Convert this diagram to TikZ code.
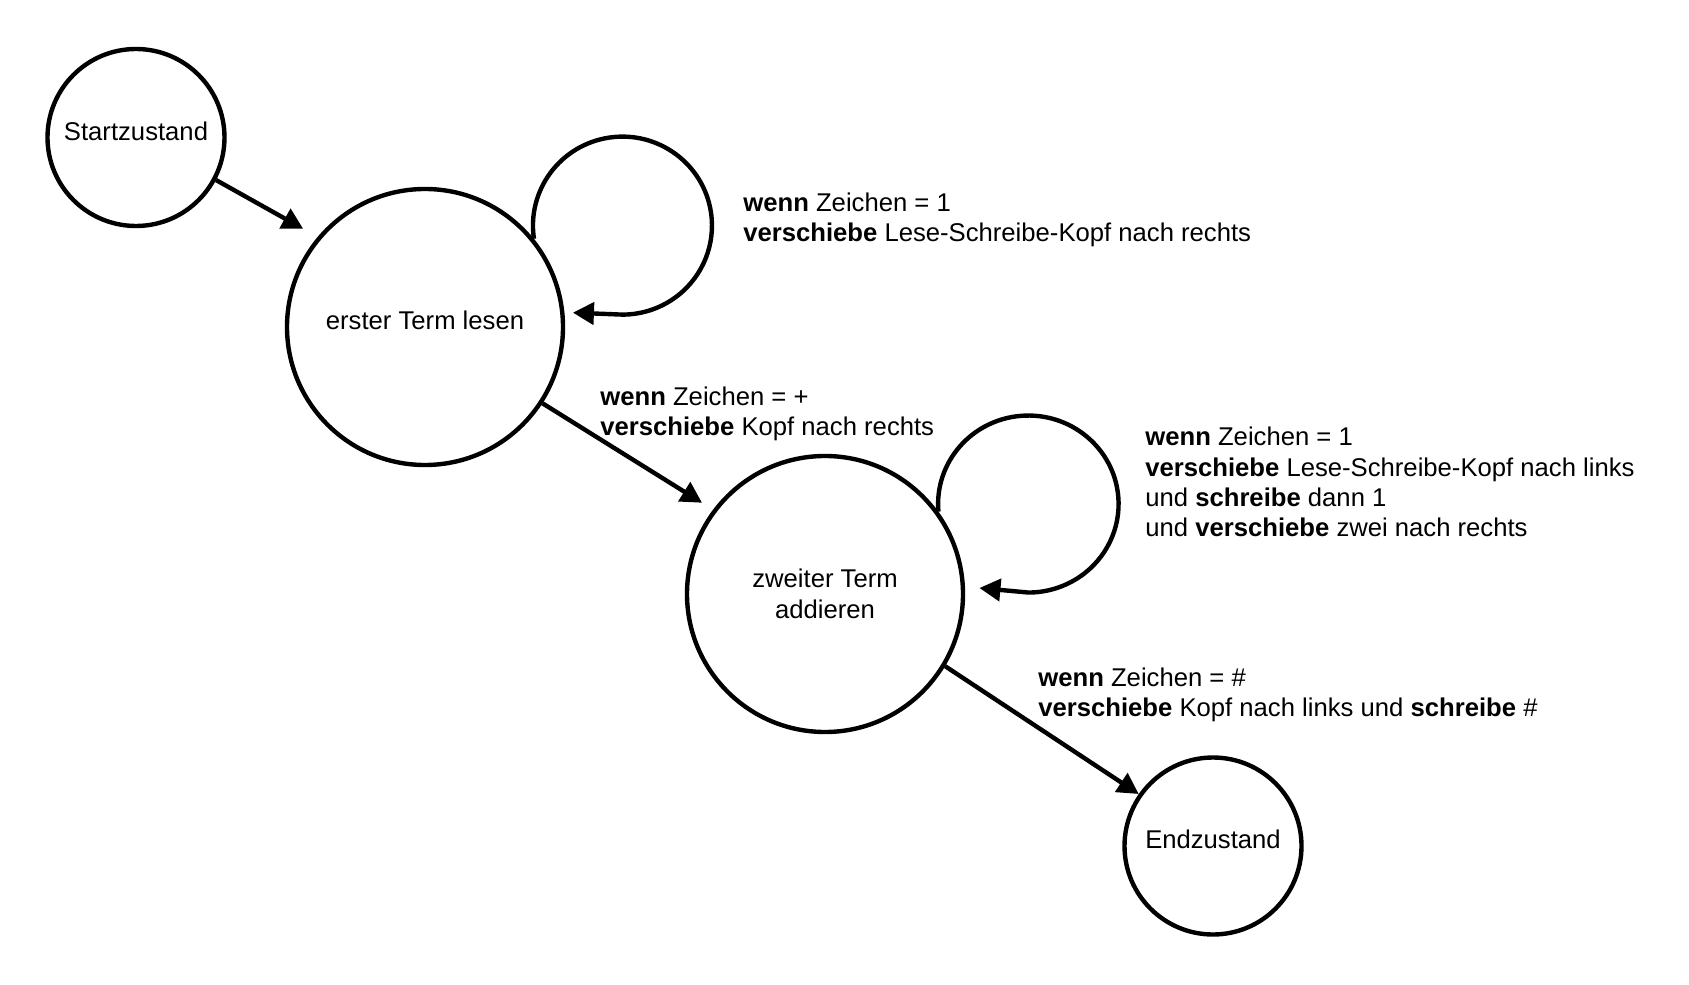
\documentclass[tikz,border=0pt]{standalone}
\usepackage{fontspec}
\setsansfont{Liberation Sans}
\usepackage{tikz}
\usetikzlibrary{arrows.meta}

\begin{document}
\begin{tikzpicture}[
                >={Triangle[length=0.42cm, width=0.44cm]},
                font=\sffamily\fontsize{14.6}{17.3}\selectfont,
                zustand/.style={circle, draw, line width=2.5pt, align=center, inner sep=0pt},
                line/.style={draw, ->, line width=2.5pt},
                notiz/.style={anchor=base west, align=left, inner sep=0pt}
            ]

                \useasboundingbox (0,0) rectangle (33.78,19.68);

                % --- ZUSTAENDE ---
                \node[zustand, minimum size=3.54cm, text depth=0.27cm] (start) at (2.72,16.93) {Startzustand};
                \node[zustand, minimum size=5.52cm, text depth=0.27cm] (erster) at (8.50,13.14) {erster Term lesen};
                \node[zustand, minimum size=5.52cm] (zweiter) at (16.50,7.80) {zweiter Term\\addieren};
                \node[zustand, minimum size=3.54cm, text depth=0.27cm] (endz) at (24.26,2.76) {Endzustand};

                % --- BESCHRIFTUNGEN (base = letzte Zeile) ---
                \node[notiz] (txtloopa) at (14.86,14.85) {\textbf{wenn} Zeichen = 1\\\textbf{verschiebe} Lese-Schreibe-Kopf nach rechts};
                \node[notiz] (txtplus) at (12.00,10.97) {\textbf{wenn} Zeichen = +\\\textbf{verschiebe} Kopf nach rechts};
                \node[notiz] (txtloopb) at (22.90,8.94) {\textbf{wenn} Zeichen = 1\\\textbf{verschiebe} Lese-Schreibe-Kopf nach links\\und \textbf{schreibe} dann 1\\und \textbf{verschiebe} zwei nach rechts};
                \node[notiz] (txtende) at (20.76,5.35) {\textbf{wenn} Zeichen = \#\\\textbf{verschiebe} Kopf nach links und \textbf{schreibe} \#};

                % --- UEBERGAENGE ---
                \draw[line, shorten >=0.33cm] (start.-28.5) -- (erster.140.5);
                \draw[line, shorten >=0.26cm] (erster.-33.8) -- (zweiter.143.3);
                \draw[line] (zweiter.-31.7) -- (endz.145);
                \draw[line, shorten >=0.17cm] (erster.39.8) arc[start angle=188.5, end angle=-90, x radius=1.79cm, y radius=1.78cm] -- (erster.6.2);
                \draw[line, shorten >=0.29cm] (zweiter.36.6) arc[start angle=184.9, end angle=-90, x radius=1.805cm, y radius=1.77cm] -- (zweiter.3);

            \end{tikzpicture}
\end{document}
